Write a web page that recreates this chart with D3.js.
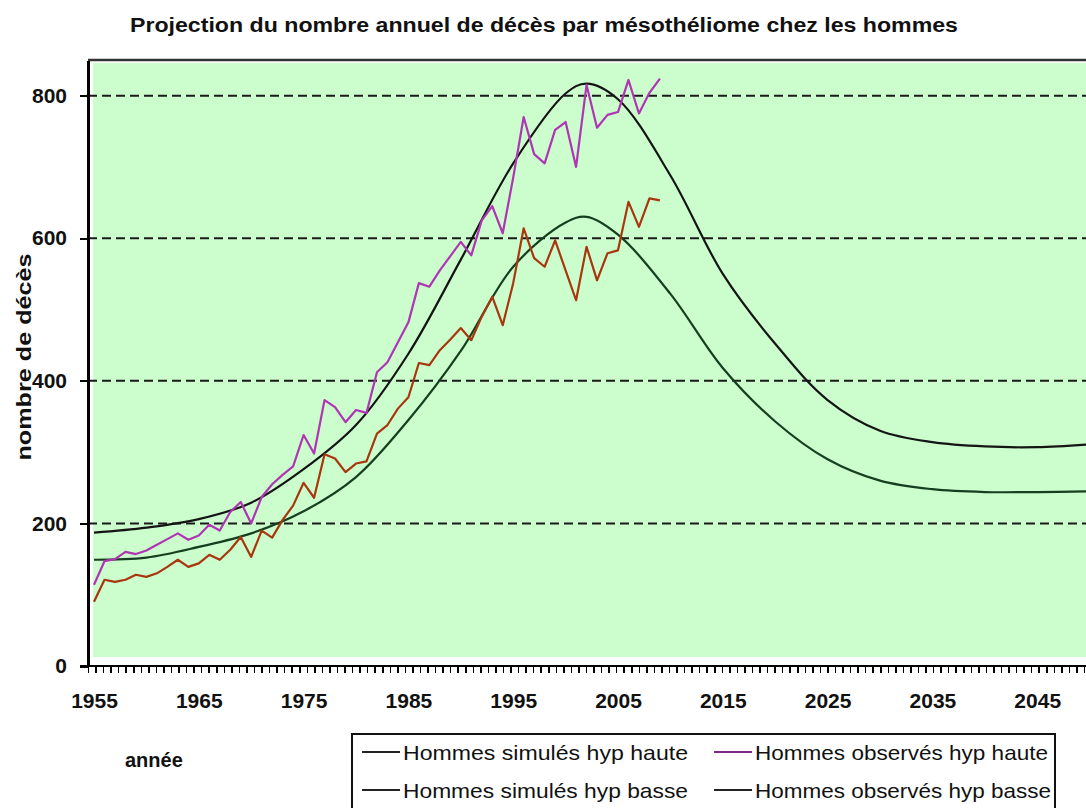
<!doctype html>
<html>
<head>
<meta charset="utf-8">
<title>Projection mésothéliome</title>
<script src="https://d3js.org/d3.v7.min.js"></script>
<style>
  body { margin: 0; background: #fff; }
  svg { display: block; font-family: "Liberation Sans", Arial, sans-serif; }
  .axis text { font-size: 21px; font-weight: bold; fill: #111; }
  .axis path, .axis line { stroke: #000; shape-rendering: crispEdges; }
</style>
</head>
<body>
<script>

// observed years 1955..2009
var obsYears = d3.range(1955, 2010);
var obsHaute = [114,147,150,160,157,162,170,178,186,177,
                183,198,190,216,230,200,237,255,268,280,
                324,298,373,363,342,359,355,412,426,454,
                482,537,532,555,575,595,576,625,645,607,
                685,770,718,705,752,763,700,815,755,773,
                777,822,775,804,824];
var obsBasse = [90,121,118,121,128,125,130,139,149,139,
                144,156,149,163,181,153,190,180,205,225,
                257,236,297,291,272,284,287,326,338,361,
                377,425,422,443,458,474,457,490,518,478,
                537,614,572,560,597,555,513,588,541,579,
                583,651,616,656,653];

// simulated curves (read every 5 years + peak)
var simYears = [1955,1960,1965,1970,1975,1980,1985,1990,1995,2000,2002,2005,2010,2015,2020,2025,2030,2035,2040,2045,2050];
var simHaute = [187,194,206,229,276,338,438,570,705,803,817,795,688,550,452,373,330,314,308,307,311];
var simBasse = [149,152,167,186,217,265,345,442,560,622,630,605,522,418,343,290,260,248,244,244,245];

var yTicks = [0,200,400,600,800];
var xLabels = [1955,1965,1975,1985,1995,2005,2015,2025,2035,2045];

var seriesNames = ["Hommes simulés hyp haute","Hommes simulés hyp basse","Hommes observés hyp haute","Hommes observés hyp basse"];
var seriesColors = ["#151515","#163f20","#b035b5","#a8360f"];
var legendColors = ["#222","#222","#7a2a80","#222"];

var W = 1086, H = 808;
var pLeft = 88, pTop = 60, pBottom = 666, pRight = 1100;

var svg = d3.select("body").append("svg").attr("width", W).attr("height", H);

var x = d3.scaleLinear().domain([1955, 2045]).range([94, 1037.2]);
var y = d3.scaleLinear().domain([0, 850]).range([pBottom, pTop]);

// plot background
svg.append("rect").attr("x", 93).attr("y", 63).attr("width", pRight - 93).attr("height", 657 - 63)
  .attr("fill", "#ccfdcc");

// top border
svg.append("line").attr("x1", pLeft).attr("x2", pRight).attr("y1", pTop).attr("y2", pTop)
  .attr("stroke", "#333").attr("stroke-width", 2.5);

// dashed gridlines
svg.selectAll(".grid").data(yTicks.filter(function(d){ return d > 0; })).enter().append("line")
  .attr("class", "grid")
  .attr("x1", pLeft).attr("x2", pRight)
  .attr("y1", function(d){ return y(d); }).attr("y2", function(d){ return y(d); })
  .attr("stroke", "#1a1a1a").attr("stroke-width", 2).attr("stroke-dasharray", "9,5");

// lines
var line = d3.line().x(function(d){ return x(d[0]); }).y(function(d){ return y(d[1]); });
var smooth = d3.line().x(function(d){ return x(d[0]); }).y(function(d){ return y(d[1]); }).curve(d3.curveCatmullRom.alpha(0.5));

function draw(gen, xs, ys, col, w) {
  svg.append("path").datum(xs.map(function(v, i){ return [v, ys[i]]; }))
    .attr("d", gen).attr("fill", "none").attr("stroke", col).attr("stroke-width", w)
    .attr("stroke-linejoin", "round");
}
draw(smooth, simYears, simHaute, seriesColors[0], 2.2);
draw(smooth, simYears, simBasse, seriesColors[1], 2.2);
draw(line, obsYears, obsHaute, seriesColors[2], 2.2);
draw(line, obsYears, obsBasse, seriesColors[3], 2.2);

// y axis
var yAxis = d3.axisLeft(y).tickValues(yTicks).tickSize(8).tickSizeOuter(0).tickPadding(13);
var gy = svg.append("g").attr("class", "axis").attr("transform", "translate(" + pLeft + ",0)").call(yAxis);
gy.select(".domain").attr("stroke-width", 3);
gy.selectAll(".tick line").attr("stroke-width", 2);

// x axis: minor ticks and labels
var x0 = x.invert(pLeft), x1 = x.invert(pRight);
var minor = d3.range(x0, x1, 0.72);
var xMinor = d3.axisBottom(x).tickValues(minor).tickSize(7).tickSizeOuter(0).tickFormat("");
var gx = svg.append("g").attr("class", "axis").attr("transform", "translate(0," + pBottom + ")").call(xMinor);
gx.select(".domain").attr("d", "M" + (pLeft - 8) + ",0H" + pRight).attr("stroke-width", 2.5);
gx.selectAll(".tick line").attr("stroke-width", 1.5);

var xAxis = d3.axisBottom(x).tickValues(xLabels).tickSize(0).tickPadding(27).tickFormat(d3.format("d"));
var gl = svg.append("g").attr("class", "axis").attr("transform", "translate(0," + pBottom + ")").call(xAxis);
gl.select(".domain").remove();

// title
svg.append("text").attr("x", 544).attr("y", 32).attr("text-anchor", "middle")
  .attr("font-size", 20).attr("font-weight", "bold").attr("fill", "#111")
  .attr("textLength", 828).attr("lengthAdjust", "spacingAndGlyphs")
  .text("Projection du nombre annuel de décès par mésothéliome chez les hommes");

// y axis title
svg.append("text").attr("transform", "translate(31,357) rotate(-90)").attr("text-anchor", "middle")
  .attr("font-size", 21).attr("font-weight", "bold").attr("fill", "#111")
  .attr("textLength", 207).attr("lengthAdjust", "spacingAndGlyphs")
  .text("nombre de décès");

// x axis title
svg.append("text").attr("x", 125).attr("y", 767)
  .attr("font-size", 20).attr("font-weight", "bold").attr("fill", "#111")
  .text("année");

// legend
svg.append("rect").attr("x", 352).attr("y", 734).attr("width", 703).attr("height", 90)
  .attr("fill", "#fff").attr("stroke", "#111").attr("stroke-width", 2);

var legPos = [[362, 752], [362, 790], [714, 752], [714, 790]];
var legWidths = [285, 285, 293, 296];
var leg = svg.selectAll(".leg").data(seriesNames).enter().append("g")
  .attr("class", "leg")
  .attr("transform", function(d, i){ return "translate(" + legPos[i][0] + "," + legPos[i][1] + ")"; });
leg.append("line").attr("x1", 0).attr("x2", 38).attr("y1", 0).attr("y2", 0)
  .attr("stroke", function(d, i){ return legendColors[i]; }).attr("stroke-width", 2);
leg.append("text").attr("x", 41).attr("y", 8).attr("font-size", 21).attr("fill", "#111")
  .attr("textLength", function(d, i){ return legWidths[i]; }).attr("lengthAdjust", "spacingAndGlyphs")
  .text(function(d){ return d; });

</script>
</body>
</html>
